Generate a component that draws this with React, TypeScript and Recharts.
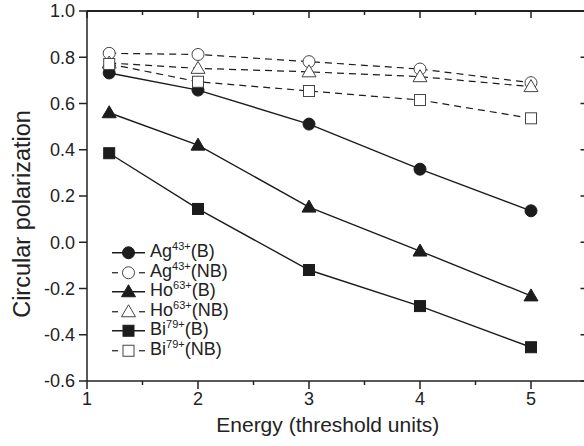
import React from "react";
import { LineChart, Line, XAxis, YAxis, Legend, ReferenceLine } from "recharts";

const FONT = '"Liberation Sans", Arial, Helvetica, sans-serif';
const INK = "#1c1c1c";
const AXIS = "#222";

// energies in threshold units
const energies = [1.2, 2, 3, 4, 5];

// circular polarization per ion, B = with Breit, NB = without
const agB = [0.732, 0.658, 0.511, 0.316, 0.136];
const agNB = [0.817, 0.812, 0.781, 0.749, 0.69];
const hoB = [0.56, 0.42, 0.152, -0.038, -0.232];
const hoNB = [0.775, 0.752, 0.737, 0.716, 0.673];
const biB = [0.385, 0.144, -0.12, -0.276, -0.454];
const biNB = [0.771, 0.694, 0.654, 0.615, 0.536];

// major ticks get a label, the half steps only a short mark
const xTicks = [1, 1.5, 2, 2.5, 3, 3.5, 4, 4.5, 5, 5.5];
const yTicks = [-0.6, -0.4, -0.2, 0, 0.2, 0.4, 0.6, 0.8, 1.0];
const X_MAX = 5.5;
const Y_MAX = 1.0;

// layout
const CHART_W = 590;
const CHART_H = 446;
const MARGIN = { top: 11, right: 3.5, bottom: 0, left: 0 };
const Y_AXIS_W = 87;
const PLOT_TOP = MARGIN.top;
const PLOT_RIGHT = CHART_W - MARGIN.right;

type Shape = "circle" | "triangle" | "square";

const series = [
  { key: "agB", ion: "Ag", charge: "43+", tag: "(B)", shape: "circle" as Shape, filled: true },
  { key: "hoB", ion: "Ho", charge: "63+", tag: "(B)", shape: "triangle" as Shape, filled: true },
  { key: "biB", ion: "Bi", charge: "79+", tag: "(B)", shape: "square" as Shape, filled: true },
  { key: "agNB", ion: "Ag", charge: "43+", tag: "(NB)", shape: "circle" as Shape, filled: false },
  { key: "hoNB", ion: "Ho", charge: "63+", tag: "(NB)", shape: "triangle" as Shape, filled: false },
  { key: "biNB", ion: "Bi", charge: "79+", tag: "(NB)", shape: "square" as Shape, filled: false },
];

const legendOrder = ["agB", "agNB", "hoB", "hoNB", "biB", "biNB"];

const data = energies.map((e, i) => ({
  energy: e,
  agB: agB[i],
  agNB: agNB[i],
  hoB: hoB[i],
  hoNB: hoNB[i],
  biB: biB[i],
  biNB: biNB[i],
}));

function marker(shape: Shape, filled: boolean, cx: number, cy: number, key?: string) {
  const fill = filled ? INK : "#fff";
  const stroke = filled ? INK : "#444";
  if (shape === "circle") {
    return <circle key={key} cx={cx} cy={cy} r={6} fill={fill} stroke={stroke} strokeWidth={1} />;
  }
  if (shape === "triangle") {
    const pts = `${cx},${cy - 7} ${cx + 7},${cy + 5} ${cx - 7},${cy + 5}`;
    return <polygon key={key} points={pts} fill={fill} stroke={stroke} strokeWidth={1} />;
  }
  return <rect key={key} x={cx - 5.5} y={cy - 5.5} width={11} height={11} fill={fill} stroke={stroke} strokeWidth={1} />;
}

const makeDot = (shape: Shape, filled: boolean) => (props: any) => {
  const { cx, cy, index } = props;
  if (cx == null || cy == null) return <g key={`d${index}`} />;
  return marker(shape, filled, cx, cy, `d${shape}${filled}${index}`);
};

const isMajor = (v: number) => Math.abs(v - Math.round(v)) < 1e-6;

// bottom axis: outward marks + labels, plus the matching inward marks on the top frame
const BottomTick = (props: any) => {
  const { x, y, payload } = props;
  const v = payload.value as number;
  const major = isMajor(v);
  const axisY = y - 8 - 3;
  return (
    <g>
      <line x1={x} x2={x} y1={axisY} y2={axisY + (major ? 8 : 4)} stroke={AXIS} strokeWidth={1.5} />
      <line x1={x} x2={x} y1={PLOT_TOP} y2={PLOT_TOP + (major ? 7 : 4)} stroke={AXIS} strokeWidth={1.5} />
      {major && v < X_MAX ? (
        <text x={x} y={y} dy="0.72em" textAnchor="middle" fontFamily={FONT} fontSize={18} fill="#222">
          {v}
        </text>
      ) : null}
    </g>
  );
};

// left axis: outward mark + label, plus the inward mark on the right frame
const LeftTick = (props: any) => {
  const { x, y, payload } = props;
  const v = payload.value as number;
  const axisX = x + 8 + 4;
  return (
    <g>
      <line x1={axisX - 8} x2={axisX} y1={y} y2={y} stroke={AXIS} strokeWidth={1.5} />
      <line x1={PLOT_RIGHT - 6} x2={PLOT_RIGHT} y1={y} y2={y} stroke={AXIS} strokeWidth={1.5} />
      <text x={x} y={y} dy="0.36em" textAnchor="end" fontFamily={FONT} fontSize={18} fill="#222">
        {v.toFixed(1)}
      </text>
    </g>
  );
};

const LegendBox = () => (
  <div style={{ fontFamily: FONT, fontSize: 18, color: "#222" }}>
    {legendOrder.map((k) => {
      const s = series.find((x) => x.key === k)!;
      return (
        <div key={k} style={{ display: "flex", alignItems: "center", height: 19.5 }}>
          <svg width={37} height={19.5} style={{ display: "block" }}>
            {s.filled ? (
              <line x1={0} x2={33} y1={9.75} y2={9.75} stroke={INK} strokeWidth={1.4} />
            ) : (
              <g>
                <line x1={0} x2={6} y1={9.75} y2={9.75} stroke={INK} strokeWidth={1.2} />
                <line x1={27} x2={33} y1={9.75} y2={9.75} stroke={INK} strokeWidth={1.2} />
              </g>
            )}
            {marker(s.shape, s.filled, 16.5, 9.75)}
          </svg>
          <span style={{ marginLeft: 1, lineHeight: "19.5px", whiteSpace: "nowrap" }}>
            {s.ion}
            <span style={{ fontSize: 11, position: "relative", top: -7 }}>{s.charge}</span>
            {s.tag}
          </span>
        </div>
      );
    })}
  </div>
);

const YLabel = (props: any) => {
  const vb = props.viewBox || {};
  const cx = 30;
  const cy = vb.y + vb.height / 2 + 18;
  return (
    <text
      x={cx}
      y={cy}
      transform={`rotate(-90 ${cx} ${cy})`}
      textAnchor="middle"
      fontFamily={FONT}
      fontSize={23.5}
      fill="#222"
    >
      Circular polarization
    </text>
  );
};

const XLabel = (props: any) => {
  const vb = props.viewBox || {};
  return (
    <text x={vb.x + vb.width / 2 - 9} y={432} textAnchor="middle" fontFamily={FONT} fontSize={21} fill="#222">
      Energy (threshold units)
    </text>
  );
};

const axisStroke = { stroke: AXIS, strokeWidth: 1.5 };

export default function App() {
  return (
    <div style={{ position: "absolute", left: 0, top: 0, width: 584, height: 446, overflow: "hidden", background: "#fff" }}>
      <LineChart width={CHART_W} height={CHART_H} data={data} margin={MARGIN}>
        <XAxis
          xAxisId="x"
          dataKey="energy"
          type="number"
          domain={[1, X_MAX]}
          allowDataOverflow
          ticks={xTicks}
          interval={0}
          tick={BottomTick}
          axisLine={axisStroke}
          tickLine={false}
          tickSize={8}
          tickMargin={3}
          height={65}
          label={<XLabel />}
        />
        <YAxis
          yAxisId="y"
          type="number"
          domain={[-0.6, Y_MAX]}
          allowDataOverflow
          ticks={yTicks}
          interval={0}
          tick={LeftTick}
          axisLine={axisStroke}
          tickLine={false}
          tickSize={8}
          tickMargin={4}
          width={Y_AXIS_W}
          label={<YLabel />}
        />
        <ReferenceLine xAxisId="x" yAxisId="y" y={Y_MAX} stroke={AXIS} strokeWidth={1.5} ifOverflow="extendDomain" />
        <ReferenceLine xAxisId="x" yAxisId="y" x={X_MAX} stroke={AXIS} strokeWidth={1.5} ifOverflow="extendDomain" />
        {series.map((s) => (
          <Line
            key={s.key}
            xAxisId="x"
            yAxisId="y"
            type="linear"
            dataKey={s.key}
            stroke={INK}
            strokeWidth={s.filled ? 1.4 : 1.2}
            strokeDasharray={s.filled ? undefined : "7 5"}
            dot={makeDot(s.shape, s.filled)}
            activeDot={false}
            isAnimationActive={false}
          />
        ))}
        <Legend
          layout="horizontal"
          verticalAlign="middle"
          align="center"
          wrapperStyle={{ left: 112, top: 243, width: "auto" }}
          content={() => <LegendBox />}
        />
      </LineChart>
      {/* top frame edge of the plot box */}
      <div
        style={{
          position: "absolute",
          left: Y_AXIS_W,
          top: PLOT_TOP - 1,
          width: PLOT_RIGHT - Y_AXIS_W,
          height: 0,
          borderTop: `2px solid ${AXIS}`,
          pointerEvents: "none",
        }}
      />
    </div>
  );
}
